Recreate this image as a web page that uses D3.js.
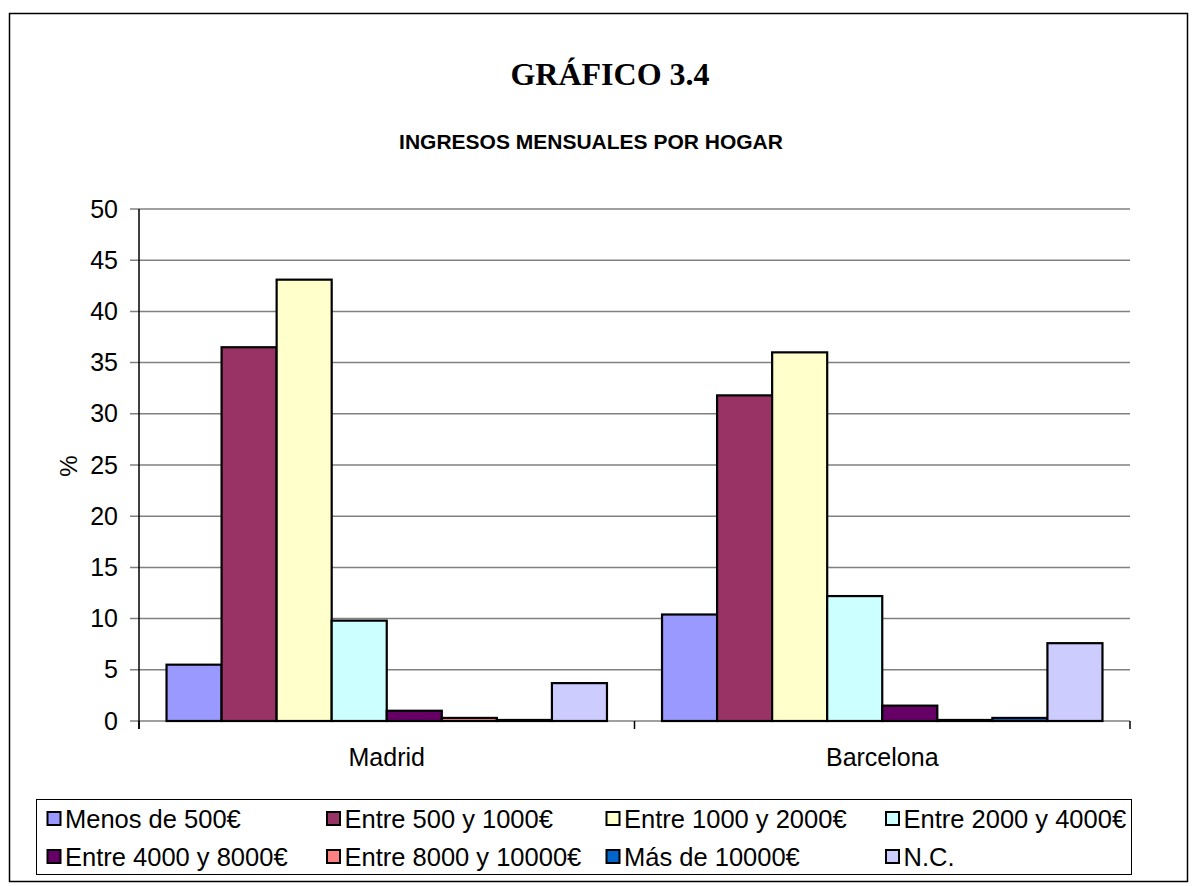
<!DOCTYPE html>
<html><head><meta charset="utf-8">
<script src="https://cdn.jsdelivr.net/npm/d3@7"></script>
<style>
html,body{margin:0;padding:0;background:#fff;}
svg{display:block;}
text{font-family:"Liberation Sans",Arial,sans-serif;fill:#000;}
</style></head>
<body>
<svg id="chart" width="1196" height="886"></svg>
<script>
const categories = ["Madrid", "Barcelona"];
const seriesNames = ["Menos de 500€", "Entre 500 y 1000€", "Entre 1000 y 2000€", "Entre 2000 y 4000€",
  "Entre 4000 y 8000€", "Entre 8000 y 10000€", "Más de 10000€", "N.C."];
const madridValues = [5.5, 36.5, 43.1, 9.8, 1.0, 0.3, 0.1, 3.7];
const barcelonaValues = [10.4, 31.8, 36.0, 12.2, 1.5, 0.1, 0.3, 7.6];
const seriesColors = ["#9999FF", "#993366", "#FFFFCC", "#CCFFFF", "#660066", "#FF8080", "#0066CC", "#CCCCFF"];
const yTicks = [0, 5, 10, 15, 20, 25, 30, 35, 40, 45, 50];

(function () {
const valuesByCategory = [madridValues, barcelonaValues];
const svg = d3.select("#chart");

// outer frame
svg.append("rect").attr("x", 9.5).attr("y", 13.5).attr("width", 1178).attr("height", 868)
  .attr("fill", "none").attr("stroke", "#000").attr("stroke-width", 1.5);

// titles
svg.append("text").attr("x", 610).attr("y", 85).attr("text-anchor", "middle")
  .style("font-family", "'Liberation Serif','Times New Roman',serif").style("font-weight", "bold")
  .style("font-size", "32px").text("GRÁFICO 3.4");
svg.append("text").attr("x", 591).attr("y", 149).attr("text-anchor", "middle")
  .style("font-weight", "bold").style("font-size", "21px").text("INGRESOS MENSUALES POR HOGAR");

const pLeft = 139, pRight = 1130, pTop = 209, pBottom = 721;
const x0 = d3.scaleBand().domain(categories).range([pLeft, pRight]).paddingInner(0).paddingOuter(0);
const x1 = d3.scaleBand().domain(d3.range(seriesNames.length)).range([0, x0.bandwidth()])
  .paddingInner(0).paddingOuter(0.5);
const y = d3.scaleLinear().domain([0, 50]).range([pBottom, pTop]);

// gridlines
svg.append("g").selectAll("line").data(yTicks).join("line")
  .attr("x1", pLeft - 9).attr("x2", pRight).attr("y1", d => y(d)).attr("y2", d => y(d))
  .attr("stroke", "#808080").attr("stroke-width", 1.5);

// y axis
const yAxis = d3.axisLeft(y).tickValues(yTicks).tickSize(0).tickPadding(21);
const gy = svg.append("g").attr("transform", `translate(${pLeft},0)`).call(yAxis);
gy.select(".domain").remove();
gy.selectAll("text").style("font-size", "25px").style("font-family", "'Liberation Sans',Arial,sans-serif");
svg.append("line").attr("x1", pLeft).attr("x2", pLeft).attr("y1", pTop).attr("y2", pBottom + 8)
  .attr("stroke", "#000").attr("stroke-width", 1.5);

// x axis
const xAxis = d3.axisBottom(x0).tickSize(0).tickPadding(27);
const gx = svg.append("g").attr("transform", `translate(0,${pBottom})`).call(xAxis);
gx.select(".domain").remove();
gx.selectAll("text").style("font-size", "25px").style("font-family", "'Liberation Sans',Arial,sans-serif");
const xTickPos = [pLeft, x0("Barcelona"), pRight];
svg.append("g").selectAll("line").data(xTickPos).join("line")
  .attr("x1", d => d).attr("x2", d => d).attr("y1", pBottom).attr("y2", pBottom + 8)
  .attr("stroke", "#000").attr("stroke-width", 1.5);

// y label
svg.append("text").attr("transform", "translate(77,466) rotate(-90)").attr("text-anchor", "middle")
  .style("font-size", "24px").text("%");

// bars
const groups = svg.append("g").selectAll("g").data(categories).join("g")
  .attr("transform", d => `translate(${x0(d)},0)`);
groups.selectAll("rect").data((d, ci) => valuesByCategory[ci].map((v, i) => ({ v, i })))
  .join("rect")
  .attr("x", d => x1(d.i)).attr("width", x1.bandwidth())
  .attr("y", d => y(d.v)).attr("height", d => y(0) - y(d.v))
  .attr("fill", d => seriesColors[d.i]).attr("stroke", "#000").attr("stroke-width", 2.2);

// legend
svg.append("rect").attr("x", 36.5).attr("y", 799.5).attr("width", 1095).attr("height", 75)
  .attr("fill", "#fff").attr("stroke", "#000").attr("stroke-width", 1);
const legCol = d3.scaleLinear().domain([0, 4]).range([47, 47 + 4 * 279.5]);
const legRow = d3.scaleLinear().domain([0, 1]).range([819, 857]);
const leg = svg.append("g").selectAll("g").data(seriesNames).join("g")
  .attr("transform", (d, i) => `translate(${legCol(i % 4)},${legRow(Math.floor(i / 4))})`);
leg.append("rect").attr("x", 0.5).attr("y", -7).attr("width", 13).attr("height", 13)
  .attr("fill", (d, i) => seriesColors[i]).attr("stroke", "#000").attr("stroke-width", 2);
leg.append("text").attr("x", 18).attr("y", 9).style("font-size", "25.5px").text(d => d);
})();
</script>
</body></html>
